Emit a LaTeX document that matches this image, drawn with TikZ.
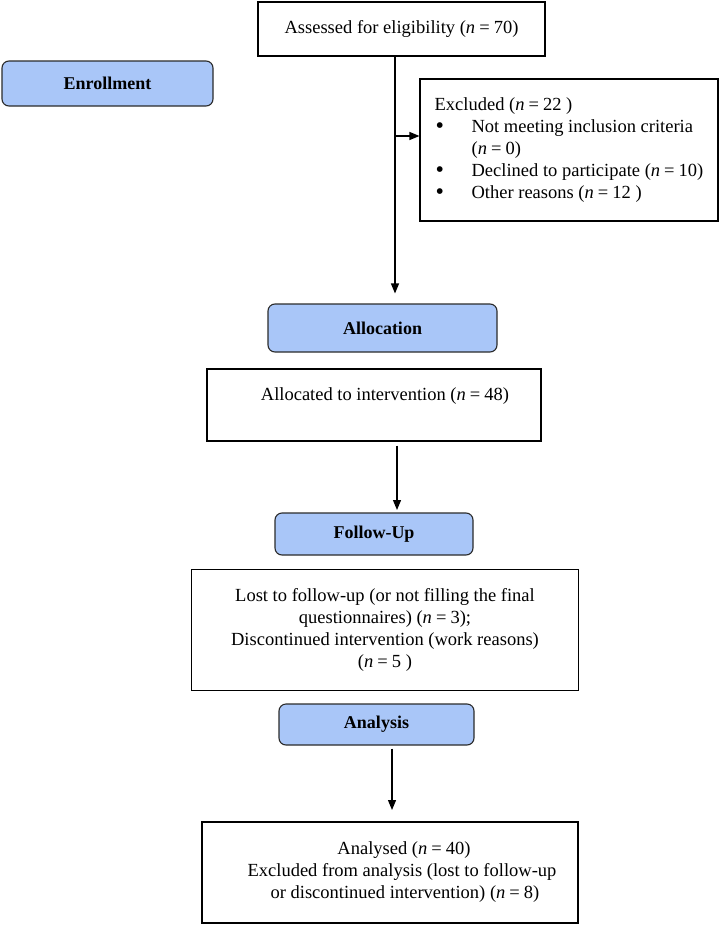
\documentclass[tikz,border=0pt]{standalone}
\usepackage{fontspec}
\setmainfont{Liberation Serif}
\usetikzlibrary{arrows.meta}
\definecolor{stagefill}{HTML}{A9C6F8}
\definecolor{stageline}{HTML}{2B2B2B}
\tikzset{
	box/.style={draw=black, line width=1.1pt, fill=white, inner sep=0pt, align=center},
	stage/.style={draw=stageline, line width=1.1pt, fill=stagefill, rounded corners=7pt, font=\fontsize{18}{22}\selectfont\bfseries},
	arrow/.style={line width=1.2pt, -{Triangle[length=10pt, width=8pt]}}
}
\newcommand{\nn}[1]{(\textit{n}\hspace{0.22em}=\hspace{0.22em}#1)}
\newcommand{\blt}{\makebox[37pt][l]{\hspace*{1pt}\raisebox{-1.5pt}{\fontsize{24}{22}\selectfont\textbullet}}}
\begin{document}
\begin{tikzpicture}[x=1pt, y=-1pt, font=\fontsize{18.5}{22}\selectfont]
	\useasboundingbox (0,0) rectangle (722,926);
	\node[box, minimum width=287pt, minimum height=54pt] (assess) at (401.5,29) {Assessed for eligibility \nn{70}};
	\node[stage, minimum width=211pt, minimum height=45pt] (enroll) at (107.5,83.5) {Enrollment};
	\node[box, minimum width=298pt, minimum height=142pt, align=left] (excl) at (569,150) {Excluded \nn{22 }\\
		\blt Not meeting inclusion criteria\\
		\hspace*{37pt}\nn{0}\\
		\blt Declined to participate \nn{10}\\
		\blt Other reasons \nn{12 }};
	\node[stage, minimum width=229pt, minimum height=48pt] (alloc) at (382.5,328) {Allocation};
	\node[box, minimum width=334pt, minimum height=72pt] (allocd) at (374,405) {\hspace*{22pt}Allocated to intervention \nn{48}\\ \mbox{}};
	\node[stage, minimum width=198pt, minimum height=42pt] (follow) at (374,534) {Follow-Up};
	\node[box, minimum width=387pt, minimum height=121pt] (lost) at (385,630) {Lost to follow-up (or not filling the final\\ questionnaires) \nn{3};\\ Discontinued intervention (work reasons)\\ \nn{5 }};
	\node[stage, minimum width=195pt, minimum height=41pt] (analysis) at (376.5,724.5) {Analysis};
	\node[box, minimum width=376pt, minimum height=101pt] (analysed) at (390,872.5) {\hspace*{28pt}Analysed \nn{40}\\ \hspace*{24pt}Excluded from analysis (lost to follow-up\\ \hspace*{30pt}or discontinued intervention) \nn{8}};
	\coordinate (split) at (395,136);
	\coordinate (tip2) at (397,510);
	\coordinate (tip3) at (392,810);
	\draw[line width=1.2pt] (split |- assess.south) -- (split);
	\draw[arrow, shorten >=10pt] (split) -- (split |- alloc.north);
	\draw[arrow] (split) -- (split -| excl.west);
	\draw[arrow, shorten <=4pt] (tip2 |- allocd.south) -- (tip2);
	\draw[arrow, shorten <=3pt] (tip3 |- analysis.south) -- (tip3);
\end{tikzpicture}
\end{document}
